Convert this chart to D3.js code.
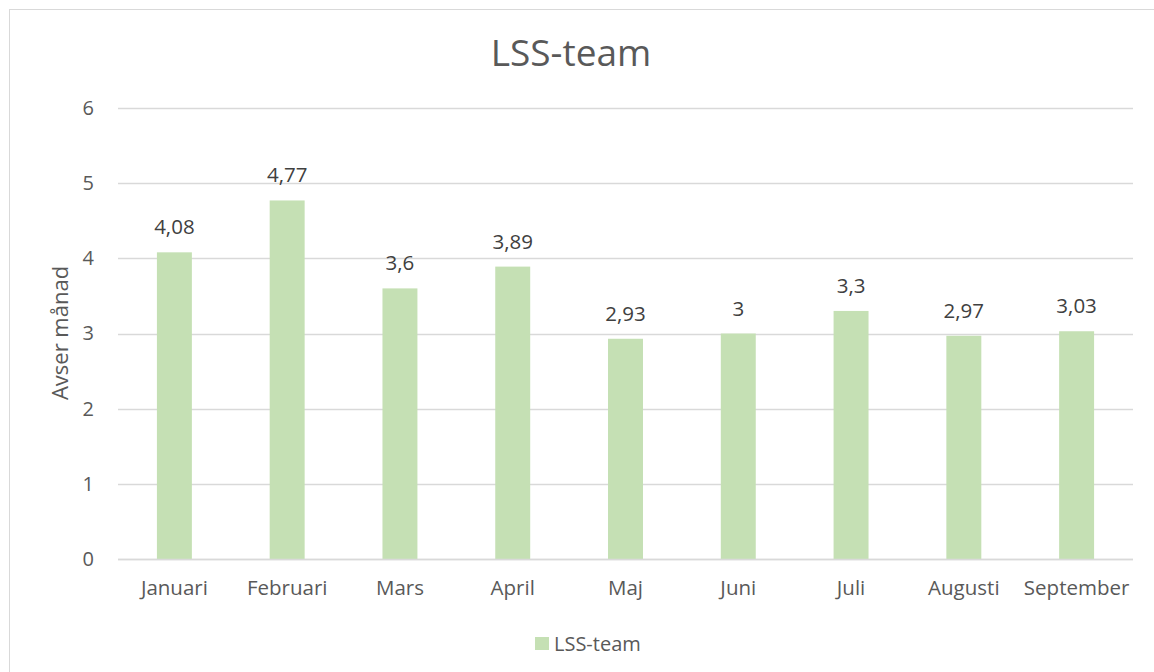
<!DOCTYPE html>
<html>
<head>
<meta charset="utf-8">
<script src="https://cdn.jsdelivr.net/npm/d3@7"></script>
<style>
  body { margin: 0; background: #fff; }
  text { font-family: "Open Sans", "Noto Sans", sans-serif; }
</style>
</head>
<body>
<div class="chart"></div>
<script>
// Data
var months = ["Januari", "Februari", "Mars", "April", "Maj", "Juni", "Juli", "Augusti", "September"];
var values = [4.08, 4.77, 3.6, 3.89, 2.93, 3, 3.3, 2.97, 3.03];
var yTicks = [0, 1, 2, 3, 4, 5, 6];
var seriesName = "LSS-team";

var svgWidth = 1154;
var svgHeight = 672;

var margin = { top: 108, right: 21, bottom: 113, left: 118 };
var width = svgWidth - margin.left - margin.right;
var height = svgHeight - margin.top - margin.bottom;

var svg = d3.select(".chart")
  .append("svg")
  .attr("width", svgWidth)
  .attr("height", svgHeight);

// outer chart border (right/bottom run off the picture)
svg.append("rect")
  .attr("x", 9.5).attr("y", 9.5)
  .attr("width", svgWidth + 20).attr("height", svgHeight + 20)
  .attr("fill", "none")
  .attr("stroke", "#d9d9d9");

var chartGroup = svg.append("g")
  .attr("transform", `translate(${margin.left}, ${margin.top})`);

var xScale = d3.scaleBand()
  .domain(months)
  .range([0, width])
  .paddingInner(0.69)
  .paddingOuter(0.345);

var yScale = d3.scaleLinear()
  .domain([0, 6])
  .range([height, 0]);

// gridlines
chartGroup.append("g")
  .selectAll("line")
  .data(yTicks)
  .enter()
  .append("line")
  .attr("x1", 0)
  .attr("x2", width)
  .attr("y1", d => Math.round(yScale(d)) + 0.5)
  .attr("y2", d => Math.round(yScale(d)) + 0.5)
  .attr("stroke", "#d9d9d9")
  .attr("stroke-width", 1.3);

// y tick labels
var leftAxis = d3.axisLeft(yScale).tickValues(yTicks).tickFormat(d3.format("d")).tickSize(0).tickPadding(24);
var yAxis = chartGroup.append("g").call(leftAxis);
yAxis.select(".domain").remove();
yAxis.selectAll("text")
  .attr("fill", "#595959")
  .style("font-size", "20px");

// bars
chartGroup.selectAll(".bar")
  .data(values)
  .enter()
  .append("rect")
  .attr("class", "bar")
  .attr("x", (d, i) => xScale(months[i]))
  .attr("y", d => yScale(d))
  .attr("width", xScale.bandwidth())
  .attr("height", d => height - yScale(d))
  .attr("fill", "#c5e0b4");

// x axis line
chartGroup.append("line")
  .attr("x1", 0).attr("x2", width)
  .attr("y1", height + 0.5).attr("y2", height + 0.5)
  .attr("stroke", "#d9d9d9")
  .attr("stroke-width", 1.5);

// x tick labels
var bottomAxis = d3.axisBottom(xScale).tickSize(0).tickPadding(21);
var xAxis = chartGroup.append("g")
  .attr("transform", `translate(0, ${height})`)
  .call(bottomAxis);
xAxis.select(".domain").remove();
xAxis.selectAll("text")
  .attr("fill", "#595959")
  .style("font-size", "20.5px");

// data labels
chartGroup.selectAll(".label")
  .data(values)
  .enter()
  .append("text")
  .attr("class", "label")
  .attr("x", (d, i) => xScale(months[i]) + xScale.bandwidth() / 2)
  .attr("y", d => yScale(d) - 18)
  .attr("text-anchor", "middle")
  .attr("fill", "#404040")
  .style("font-size", "20.5px")
  .text(d => String(d).replace(".", ","));

// title
svg.append("text")
  .attr("x", 571)
  .attr("y", 66)
  .attr("text-anchor", "middle")
  .attr("fill", "#595959")
  .style("font-size", "37px")
  .text(seriesName);

// y axis title
svg.append("text")
  .attr("transform", "translate(68, 333) rotate(-90)")
  .attr("text-anchor", "middle")
  .attr("fill", "#595959")
  .style("font-size", "22px")
  .text("Avser månad");

// legend
svg.append("rect")
  .attr("x", 535).attr("y", 637)
  .attr("width", 14).attr("height", 13)
  .attr("fill", "#c5e0b4");
svg.append("text")
  .attr("x", 554)
  .attr("y", 651)
  .attr("fill", "#595959")
  .style("font-size", "20px")
  .text(seriesName);
</script>
</body>
</html>
